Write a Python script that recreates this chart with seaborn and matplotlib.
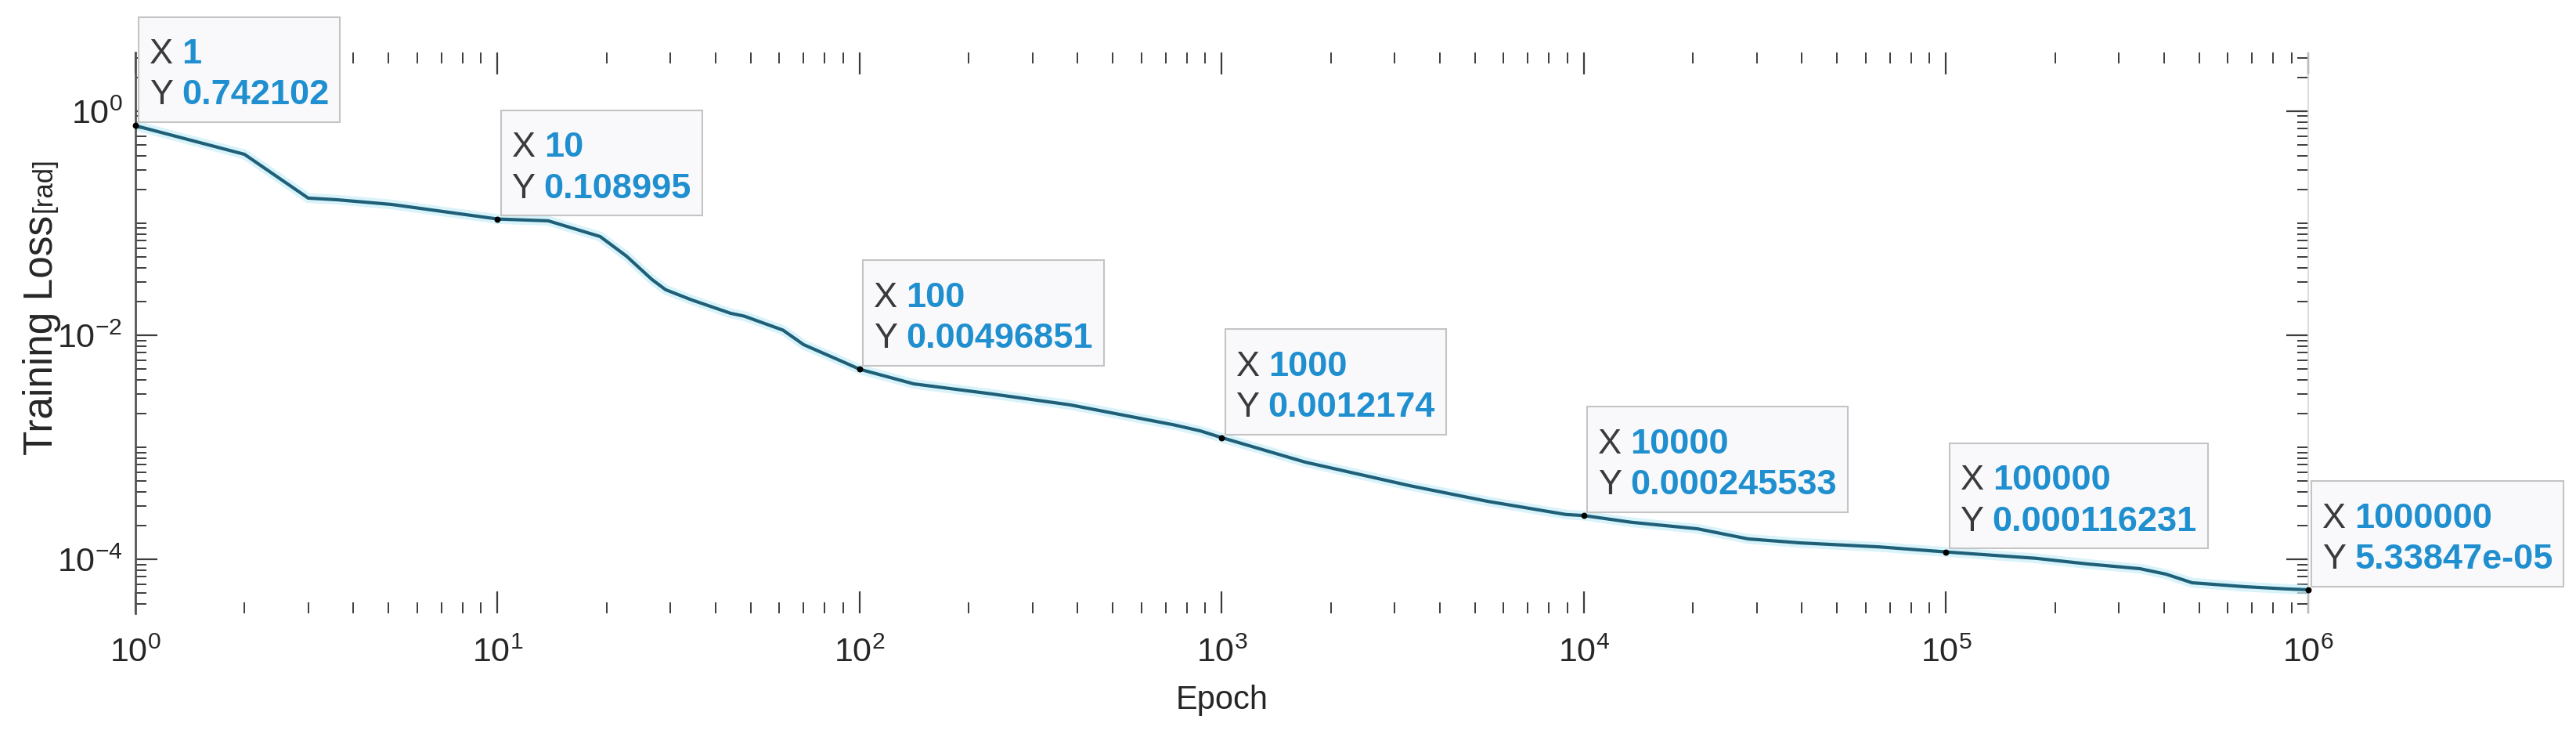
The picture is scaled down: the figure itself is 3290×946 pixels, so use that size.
import numpy as np
import pandas as pd
import seaborn as sns
import matplotlib
matplotlib.use("Agg")
import matplotlib.pyplot as plt
from matplotlib.ticker import FixedLocator, LogLocator, NullFormatter, LogFormatterSciNotation
from matplotlib.offsetbox import TextArea, HPacker, VPacker, AnnotationBbox, DrawingArea

# ---------------- data ----------------
epochs = [1, 2, 3, 3.6, 5.1, 10, 13.8, 19.2, 22.7, 26.7, 29.1, 34.3, 44, 48, 61.4, 70, 91,
          100, 141, 232, 381, 740, 872, 1000, 1700, 3300, 5420, 8920, 10000, 13500, 20600,
          28400, 39600, 65300, 100000, 177000, 246000, 343000, 405000, 478000, 668000,
          857000, 1000000]
loss = [0.742102, 0.412, 0.1675, 0.162, 0.147, 0.108995, 0.105, 0.0760, 0.0508, 0.0314,
        0.0255, 0.0207, 0.0157, 0.0148, 0.0111, 0.00824, 0.00569, 0.00496851, 0.00368,
        0.00299, 0.00239, 0.00158, 0.00140, 0.0012174, 0.000736, 0.000454, 0.000329,
        0.000251, 0.000245533, 0.000214, 0.000187, 0.000152, 0.000140, 0.000129,
        0.000116231, 0.000102, 0.0000908, 0.0000824, 0.0000736, 0.0000617, 0.0000569,
        0.0000545, 0.0000533847]

tip_x = [1, 10, 100, 1000, 10000, 100000, 1000000]
tip_y = [0.742102, 0.108995, 0.00496851, 0.0012174, 0.000245533, 0.000116231, 5.33847e-05]

x_label = "Epoch"
y_label_main = "Training Loss"
y_label_unit = "[rad]"

# ---------------- style ----------------
sns.set_theme(style="white")
plt.rcParams["font.family"] = ["Liberation Sans", "DejaVu Sans"]
plt.rcParams["mathtext.fontset"] = "custom"
plt.rcParams["mathtext.rm"] = "Liberation Sans"
plt.rcParams["mathtext.it"] = "Liberation Sans:italic"
plt.rcParams["mathtext.bf"] = "Liberation Sans:bold"

W, H, DPI = 3291, 946, 100
fig = plt.figure(figsize=(W / DPI, H / DPI), dpi=DPI)
fig.patch.set_facecolor("white")
ax = fig.add_axes([173 / W, 1 - 783 / H, (2948 - 173) / W, (783 - 67) / H])
ax.set_facecolor("white")

df = pd.DataFrame({"epoch": epochs, "loss": loss})
# soft glow under the line
sns.lineplot(data=df, x="epoch", y="loss", ax=ax, color="#c8eef9", linewidth=9,
             alpha=0.7, sort=False, legend=False)
sns.lineplot(data=df, x="epoch", y="loss", ax=ax, color="#1f5f78", linewidth=3,
             sort=False, legend=False)
ax.set_xscale("log")
ax.set_yscale("log")
ax.set_xlim(1, 1e6)
ax.set_ylim(10 ** -4.4825, 10 ** 0.524)

ax.scatter(tip_x, tip_y, s=22, color="black", zorder=5, clip_on=False)

# ticks
ax.xaxis.set_major_locator(LogLocator(base=10, numticks=20))
ax.xaxis.set_minor_locator(LogLocator(base=10, subs=np.arange(2, 10), numticks=100))
ax.xaxis.set_major_formatter(LogFormatterSciNotation())
ax.xaxis.set_minor_formatter(NullFormatter())
ax.yaxis.set_major_locator(FixedLocator([1e-4, 1e-2, 1e0]))
ax.yaxis.set_minor_locator(LogLocator(base=10, subs=np.arange(1, 10), numticks=100))
ax.yaxis.set_major_formatter(LogFormatterSciNotation())
ax.yaxis.set_minor_formatter(NullFormatter())

tick_col = "#3c3c3c"
ax.tick_params(axis="both", which="major", direction="in", length=20, width=1.6,
               color=tick_col, labelsize=31, labelcolor="#262626",
               top=True, right=True, bottom=True, left=True)
ax.tick_params(axis="both", which="minor", direction="in", length=10, width=1.4,
               color=tick_col, top=True, right=True, bottom=True, left=True)
ax.tick_params(axis="x", which="major", pad=22)
ax.tick_params(axis="y", which="major", pad=12)

for side in ["top", "bottom"]:
    ax.spines[side].set_visible(False)
ax.spines["left"].set_color("#555555")
ax.spines["left"].set_linewidth(2)
ax.spines["right"].set_color("#d6d6d6")
ax.spines["right"].set_linewidth(1.2)
ax.set_xlabel("")
ax.set_ylabel("")

# axis labels
fig.text((173 + 2948) / 2 / W, 1 - 894 / H, x_label, ha="center", va="center",
         fontsize=30, color="#262626")
fig.text(54 / W, 1 - 428 / H, y_label_main, rotation=90, ha="center", va="center",
         fontsize=37, color="#262626")
fig.text(56 / W, 1 - 236 / H, y_label_unit, rotation=90, ha="center", va="center",
         fontsize=25, color="#262626")

# data tips
TIP_FS = 32.5
for xv, yv in zip(tip_x, tip_y):
    r1 = HPacker(children=[TextArea("X", textprops=dict(color="#3a3a3a", fontsize=TIP_FS)),
                           TextArea(f"{int(xv)}", textprops=dict(color="#1f8fcf", fontsize=TIP_FS,
                                                                 fontweight="bold"))],
                 sep=8, align="baseline", pad=0)
    r2 = HPacker(children=[TextArea("Y", textprops=dict(color="#3a3a3a", fontsize=TIP_FS)),
                           TextArea(f"{yv:.6g}", textprops=dict(color="#1f8fcf", fontsize=TIP_FS,
                                                                fontweight="bold"))],
                 sep=8, align="baseline", pad=0)
    spacer = DrawingArea(1, 2)
    box = VPacker(children=[spacer, r1, r2], sep=8, align="left", pad=0)
    ab = AnnotationBbox(box, (xv, yv), xycoords="data", xybox=(13, 13),
                        boxcoords="offset points", box_alignment=(0, 0),
                        frameon=True, pad=1.0, fontsize=10, annotation_clip=False,
                        bboxprops=dict(facecolor="#f9f9fb", edgecolor="#c4c4c4",
                                       linewidth=1.5))
    ab.set_zorder(6)
    ax.add_artist(ab)

fig.savefig("out.png", dpi=DPI, facecolor="white")
